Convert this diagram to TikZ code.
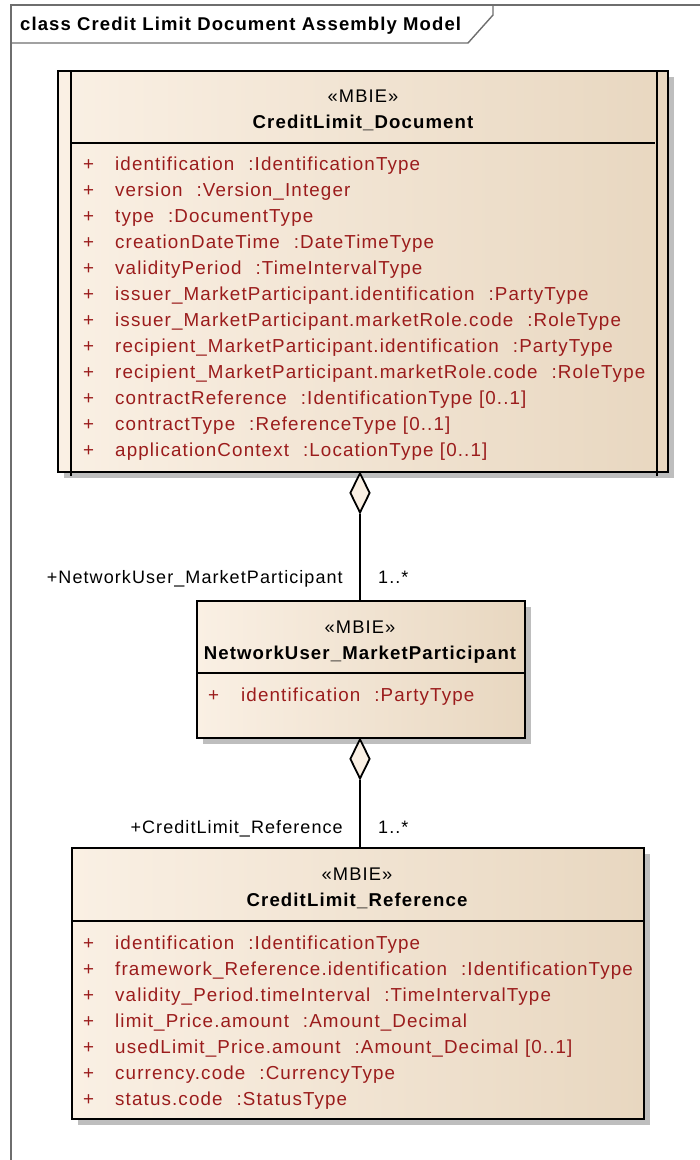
\documentclass[tikz,border=0pt]{standalone}
\usepackage{fontspec}
\setmainfont{Liberation Sans}[LetterSpace=6]
\usetikzlibrary{shapes.geometric,shadows}
\definecolor{attrred}{RGB}{155,28,28}
\definecolor{fillL}{RGB}{250,240,228}
\definecolor{fillR}{RGB}{232,215,192}
\definecolor{framegray}{RGB}{110,110,110}
\definecolor{shadowgray}{RGB}{190,190,190}
\newcommand{\gap}{\hspace{14pt}}
\begin{document}
\begin{tikzpicture}[x=1pt,y=-1pt,font=\fontsize{18.3}{20}\selectfont,
  umlbox/.style={draw=black,line width=1.8pt,left color=fillL,right color=fillR,inner sep=0pt,anchor=north west,
    drop shadow={shadow xshift=6pt,shadow yshift=-6pt,fill=shadowgray,opacity=1}},
  edge/.style={draw=black,line width=1.8pt},
  frameline/.style={draw=framegray,line width=1.4pt},
  txt/.style={inner sep=0pt,anchor=base},
  boldtxt/.style={txt,font=\fontsize{18.6}{20}\selectfont\bfseries},
  attrtxt/.style={inner sep=0pt,anchor=base west,text=attrred,font=\fontsize{18.8}{20}\selectfont},
  roletxt/.style={inner sep=0pt,font=\fontsize{18}{20}\selectfont},
  diam/.style={shape=diamond,draw=black,line width=1.8pt,fill=fillL,inner sep=0pt,minimum width=20pt,minimum height=40pt,shape aspect=0.5,anchor=north}]
\useasboundingbox (0,0) rectangle (700,1160);
\clip (0,0) rectangle (700,1160);
% frame
\draw[frameline] (11,1200) -- (11,5) -- (720,5);
\draw[frameline] (11,43) -- (468,43) -- (493,15) -- (493,5);
\node[txt,anchor=base west,font=\fontsize{18.5}{20}\selectfont\bfseries] (title) at (20,30) {class Credit Limit Document Assembly Model};
% top class
\node[umlbox,minimum width=610pt,minimum height=401pt] (doc) at (57,70) {};
\draw[edge] ([xshift=14pt]doc.north west) -- ([xshift=14pt,yshift=-3pt]doc.south west);
\draw[edge] ([xshift=-12pt]doc.north east) -- ([xshift=-12pt,yshift=-3pt]doc.south east);
\draw[edge] (71,143) -- (655,143);
\node[txt] (docst) at (363,102) {«MBIE»};
\node[boldtxt] (docname) at (363,128) {CreditLimit\_Document};
\foreach \t [count=\i] in {
  {identification\gap:IdentificationType},
  {version\gap:Version\_Integer},
  {type\gap:DocumentType},
  {creationDateTime\gap:DateTimeType},
  {validityPeriod\gap:TimeIntervalType},
  {issuer\_MarketParticipant.identification\gap:PartyType},
  {issuer\_MarketParticipant.marketRole.code\gap:RoleType},
  {recipient\_MarketParticipant.identification\gap:PartyType},
  {recipient\_MarketParticipant.marketRole.code\gap:RoleType},
  {contractReference\gap:IdentificationType [0..1]},
  {contractType\gap:ReferenceType [0..1]},
  {applicationContext\gap:LocationType [0..1]}} {
  \node[attrtxt] (docp\i) at (83,144+26*\i) {+};
  \node[attrtxt] (doca\i) at (115,144+26*\i) {\t};
}
% middle class
\node[umlbox,minimum width=328pt,minimum height=137pt] (mid) at (196,600) {};
\draw[edge] (mid.west |- 0,673) -- (mid.east |- 0,673);
\node[txt] (midst) at (360,633) {«MBIE»};
\node[boldtxt] (midname) at (360,659) {NetworkUser\_MarketParticipant};
\node[attrtxt] (midp1) at (208,701) {+};
\node[attrtxt] (mida1) at (241,701) {identification\gap:PartyType};
% bottom class
\node[umlbox,minimum width=572pt,minimum height=271pt] (ref) at (71,847) {};
\draw[edge] (ref.west |- 0,921) -- (ref.east |- 0,921);
\node[txt] (refst) at (357,880) {«MBIE»};
\node[boldtxt] (refname) at (357,906) {CreditLimit\_Reference};
\foreach \t [count=\i] in {
  {identification\gap:IdentificationType},
  {framework\_Reference.identification\gap:IdentificationType},
  {validity\_Period.timeInterval\gap:TimeIntervalType},
  {limit\_Price.amount\gap:Amount\_Decimal},
  {usedLimit\_Price.amount\gap:Amount\_Decimal [0..1]},
  {currency.code\gap:CurrencyType},
  {status.code\gap:StatusType}} {
  \node[attrtxt] (refp\i) at (83,923+26*\i) {+};
  \node[attrtxt] (refa\i) at (115,923+26*\i) {\t};
}
% connectors
\node[diam] (dia1) at (360,472) {};
\draw[edge] (dia1.south) -- (dia1.south |- mid.north);
\node[roletxt,anchor=base east] (r1) at (343,583) {+NetworkUser\_MarketParticipant};
\node[roletxt,anchor=base west] (m1) at (378,583) {1..*};
\node[diam] (dia2) at (360,738) {};
\draw[edge] (dia2.south) -- (dia2.south |- ref.north);
\node[roletxt,anchor=base east] (r2) at (343,833) {+CreditLimit\_Reference};
\node[roletxt,anchor=base west] (m2) at (378,833) {1..*};
\end{tikzpicture}
\end{document}
